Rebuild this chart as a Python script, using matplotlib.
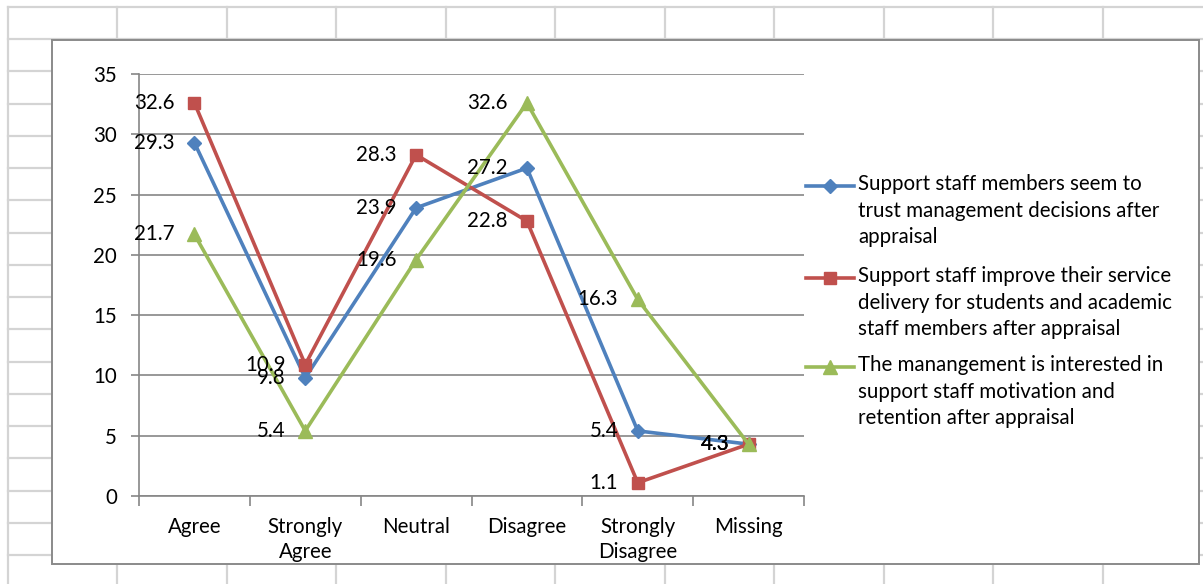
import matplotlib
matplotlib.use("Agg")
import matplotlib.pyplot as plt
from matplotlib.lines import Line2D
from matplotlib.patches import Rectangle
import numpy as np

plt.rcParams['font.family'] = ['Lato', 'DejaVu Sans']

categories = ["Agree", "Strongly\nAgree", "Neutral", "Disagree", "Strongly\nDisagree", "Missing"]
trust_decisions = [29.3, 9.8, 23.9, 27.2, 5.4, 4.3]
service_delivery = [32.6, 10.9, 28.3, 22.8, 1.1, 4.3]
motivation_retention = [21.7, 5.4, 19.6, 32.6, 16.3, 4.3]

series_labels = [
    "Support staff members seem to\ntrust management decisions after\nappraisal",
    "Support staff improve their service\ndelivery for students and academic\nstaff members after appraisal",
    "The manangement is interested in\nsupport staff motivation and\nretention after appraisal",
]
series_values = [trust_decisions, service_delivery, motivation_retention]
colors = ["#4F81BD", "#C0504D", "#9BBB59"]
markers = ["D", "s", "^"]
marker_sizes = [7, 8.5, 10]

W, H = 1203, 584
FS = 14.8
fig = plt.figure(figsize=(W / 100, H / 100), dpi=100)

# worksheet background with cell grid, in pixel coordinates
bg = fig.add_axes([0, 0, 1, 1])
bg.set_xlim(0, W)
bg.set_ylim(H, 0)
bg.axis("off")
grid_col = "#d4d4d4"
for x in np.arange(8, W + 5, 109.45):
    bg.plot([x, x], [7, H], color=grid_col, lw=1.6, zorder=0)
for y in np.arange(7, H + 5, 32.24):
    bg.plot([8, W], [y, y], color=grid_col, lw=1.6, zorder=0)

# chart frame
bg.add_patch(Rectangle((52, 40), 1199 - 52, 564 - 40, facecolor="white",
                       edgecolor="#8a8a8a", lw=1.4, zorder=1))

# legend drawn at the right of the chart
legend_rows = [186, 278, 367]
for lab, col, mk, ms, yrow in zip(series_labels, colors, markers, marker_sizes, legend_rows):
    bg.add_line(Line2D([806, 854], [yrow, yrow], color=col, lw=2.6, zorder=2))
    bg.add_line(Line2D([830], [yrow], marker=mk, markersize=ms, color=col,
                       markeredgecolor=col, zorder=3))
    bg.text(858, yrow - 12, lab, fontsize=FS, va="top", ha="left",
            linespacing=1.42, color="black", zorder=3)

# plot area
left, right = 139 / W, 804 / W
bottom, top = (H - 496) / H, (H - 74) / H
ax = fig.add_axes([left, bottom, right - left, top - bottom])
ax.set_facecolor("none")
x = np.arange(len(categories))

for vals, lab, col, mk, ms in zip(series_values, series_labels, colors, markers, marker_sizes):
    ax.plot(x, vals, color=col, lw=2.6, marker=mk, markersize=ms,
            markeredgecolor=col, zorder=3, clip_on=False)
    for xi, v in zip(x, vals):
        ax.annotate(f"{v:.1f}", (xi, v), xytext=(-14, 0), textcoords="offset points",
                    ha="right", va="center", fontsize=FS, color="black", zorder=4)

ax.set_xlim(-0.5, len(categories) - 0.5)
ax.set_ylim(0, 35)
ax.set_yticks(np.arange(0, 36, 5))
ax.set_xticks(x)
ax.set_xticklabels(categories, fontsize=FS, linespacing=1.3)
ax.set_xticks(np.arange(-0.5, len(categories), 1), minor=True)
ax.tick_params(axis="x", which="major", length=0, pad=15)
ax.tick_params(axis="x", which="minor", length=7, width=1.2, color="#868686", direction="out")
ax.tick_params(axis="y", length=6, width=1.2, color="#868686", direction="out",
               labelsize=FS, pad=10)
ax.grid(axis="y", color="#868686", lw=1.2, zorder=1)
ax.set_axisbelow(True)
for side in ["top", "right"]:
    ax.spines[side].set_visible(False)
for side in ["left", "bottom"]:
    ax.spines[side].set_color("#868686")
    ax.spines[side].set_linewidth(1.2)

fig.savefig("out.png", dpi=100)
